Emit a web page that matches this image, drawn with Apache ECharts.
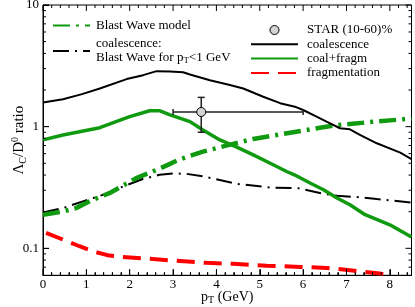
<!DOCTYPE html>
<html><head><meta charset="utf-8">
<script src="https://cdn.jsdelivr.net/npm/echarts@6/dist/echarts.min.js"></script>
<style>html,body{margin:0;padding:0;background:#fff}#c{width:415px;height:307px}</style>
</head><body><div id="c"></div>
<script>
// ---- data ----
const coalX = [0, 0.46, 0.9, 1.31, 1.93, 2.31, 2.62, 2.93, 3.23, 3.39, 3.85, 4.31, 4.62, 5.08, 5.47, 5.81, 6.0, 6.31, 6.54, 6.85, 7.08, 7.31, 7.70, 8.24, 8.5];
const coalY = [1.58, 1.68, 1.85, 2.06, 2.46, 2.65, 2.86, 2.84, 2.80, 2.68, 2.41, 2.20, 2.06, 1.76, 1.56, 1.46, 1.37, 1.21, 1.10, 0.97, 0.95, 0.855, 0.73, 0.612, 0.54];

const cfX = [0, 0.46, 1.31, 2.0, 2.46, 2.7, 2.93, 3.39, 3.69, 4.08, 4.47, 4.85, 5.24, 5.62, 5.81, 6.16, 6.47, 6.78, 7.08, 7.43, 8.0, 8.5];
const cfY = [0.778, 0.855, 0.98, 1.21, 1.35, 1.35, 1.25, 1.10, 0.94, 0.778, 0.678, 0.586, 0.50, 0.428, 0.40, 0.344, 0.303, 0.259, 0.228, 0.189, 0.156, 0.124];

const bwX = [0, 0.46, 0.76, 1.11, 1.53, 1.84, 2.15, 2.53, 2.88, 3.12, 3.69, 4.20, 4.85, 5.77, 6.39, 6.78, 7.54, 8.31, 8.5];
const bwY = [0.189, 0.201, 0.214, 0.247, 0.284, 0.327, 0.377, 0.428, 0.485, 0.533, 0.624, 0.695, 0.793, 0.90, 0.98, 1.03, 1.09, 1.15, 1.17];

const cbwX = [0, 0.46, 0.92, 1.38, 1.84, 2.30, 2.69, 3.0, 3.3, 3.69, 4.0, 4.47, 5.24, 5.89, 6.47, 6.78, 7.24, 7.70, 8.5];
const cbwY = [0.197, 0.214, 0.243, 0.275, 0.322, 0.371, 0.402, 0.412, 0.41, 0.39, 0.37, 0.339, 0.316, 0.312, 0.281, 0.27, 0.264, 0.254, 0.238];

const fragX = [0.07, 0.46, 0.84, 1.15, 1.53, 1.84, 2.30, 2.96, 3.77, 4.39, 5.16, 5.93, 6.55, 7.08, 7.77, 7.96];
const fragY = [0.134, 0.118, 0.104, 0.0945, 0.0871, 0.085, 0.0828, 0.0794, 0.076, 0.0745, 0.072, 0.0703, 0.069, 0.066, 0.062, 0.0605];

// STAR point: x, y, xLow, xHigh, yLow, yHigh
const starPt = [3.65, 1.32, 3.0, 6.0, 0.90, 1.74];

// axis ranges and ticks
const xRange = [0, 8.5];
const yRange = [0.06, 10];
const xTickLabels = [0, 1, 2, 3, 4, 5, 6, 7, 8];
const yTickLabels = [0.1, 1, 10];
const yMinorTicks = [0.07, 0.08, 0.09, 0.2, 0.3, 0.4, 0.5, 0.6, 0.7, 0.8, 0.9, 2, 3, 4, 5, 6, 7, 8, 9];
const xMinorTicks = [];
for (let i = 0; i < 43; i++) { if (i % 5 !== 0) xMinorTicks.push(i / 5); }

const zip = (a, b) => a.map((v, i) => [v, b[i]]);

// ---- chart ----
const F = 'Liberation Serif';
const GREEN = '#109a10';
const chart = echarts.init(document.getElementById('c'), null, {renderer: 'canvas'});

const seg = (x1, y1, x2, y2, st) => ({type: 'line', shape: {x1, y1, x2, y2}, style: st});

// tick marks drawn as thin rect symbols placed on the axes' scales
function tickSeries(name, data, size, offset) {
  return {type: 'scatter', name, data, symbol: 'rect', symbolSize: size, symbolOffset: offset,
    itemStyle: {color: '#000', opacity: 1}, silent: true, clip: false, z: 6, emphasis: {disabled: true}};
}

const legText = {color: '#000', fontFamily: F, fontSize: 13, lineHeight: 13, rich: {
  n: {fontSize: 13, fontFamily: F, color: '#000', lineHeight: 15},
  sub: {fontSize: 9, fontFamily: F, color: '#000', lineHeight: 8, verticalAlign: 'bottom'}
}};
const noSym = {opacity: 0};

const option = {
  animation: false,
  backgroundColor: '#fff',
  textStyle: {fontFamily: F, color: '#000'},
  grid: {left: 43, top: 5, width: 368.5, height: 270.3, containLabel: false, outerBoundsMode: 'none',
    show: true, borderColor: '#000', borderWidth: 1, backgroundColor: 'transparent'},
  xAxis: {
    type: 'value', min: xRange[0], max: xRange[1], interval: 1, position: 'bottom',
    axisLine: {show: true, onZero: false, lineStyle: {color: '#000', width: 1}},
    axisTick: {show: true, inside: true, length: 6, customValues: xTickLabels},
    minorTick: {show: true, splitNumber: 5, length: 3, lineStyle: {color: '#000'}},
    axisLabel: {show: true, customValues: xTickLabels, color: '#000', fontFamily: F, fontSize: 13, margin: 3},
    splitLine: {show: false}, minorSplitLine: {show: false},
    name: '{n|p}{sub|T}{n| (GeV)}', nameLocation: 'middle', nameGap: 14, nameMoveOverlap: false,
    nameTextStyle: {color: '#000', fontFamily: F, rich: {
      n: {fontSize: 14, fontFamily: F, color: '#000', lineHeight: 16},
      sub: {fontSize: 10, fontFamily: F, color: '#000', lineHeight: 9, verticalAlign: 'bottom'}
    }}
  },
  yAxis: {
    type: 'log', logBase: 10, min: yRange[0], max: yRange[1], position: 'left',
    axisLine: {show: true, onZero: false, lineStyle: {color: '#000', width: 1}},
    axisTick: {show: true, inside: true, length: 6, customValues: yTickLabels},
    axisLabel: {show: true, customValues: yTickLabels, color: '#000', fontFamily: F, fontSize: 13, margin: 4,
      formatter: v => String(+(+v).toPrecision(3))},
    splitLine: {show: false}, minorTick: {show: false},
    name: '{n|Λ}{sub|C}{n|/D}{sup|0}{n| ratio}', nameLocation: 'middle', nameRotate: 90, nameGap: 15, nameMoveOverlap: false,
    nameTextStyle: {color: '#000', fontFamily: F, rich: {
      n: {fontSize: 15, fontFamily: F, color: '#000', lineHeight: 18},
      sub: {fontSize: 10, fontFamily: F, color: '#000', lineHeight: 9, verticalAlign: 'bottom'},
      sup: {fontSize: 10, fontFamily: F, color: '#000', lineHeight: 9, verticalAlign: 'top'}
    }}
  },
  legend: [
    {
      data: [{name: 'Blast Wave model', itemStyle: noSym}, {name: 'coalescence BW', itemStyle: noSym}],
      orient: 'vertical', left: 52, top: 19, padding: 0, itemWidth: 37, itemHeight: 9, itemGap: 5,
      textStyle: Object.assign({}, legText, {padding: [0, 0, 0, 1]}),
      formatter: n => n === 'coalescence BW' ? 'coalescence:\n{n|Blast Wave for p}{sub|T}{n|<1 GeV}' : n,
      selectedMode: false
    },
    {
      data: [
        {name: 'STAR (10-60)%', icon: 'circle', itemStyle: {color: '#d4d4d4', borderColor: '#000', borderWidth: 1, opacity: 1}},
        {name: 'coalescence', itemStyle: noSym}, {name: 'coal+fragm', itemStyle: noSym}, {name: 'fragmentation', itemStyle: noSym}
      ],
      orient: 'vertical', left: 250, top: 23.5, padding: 0, itemWidth: 47, itemHeight: 9, itemGap: 1.3,
      textStyle: Object.assign({}, legText, {padding: [0, 0, 0, 4]}),
      selectedMode: false
    }
  ],
  series: [
    {type: 'line', name: 'fragmentation', data: zip(fragX, fragY), symbol: 'none', showSymbol: false,
      itemStyle: {color: '#ff0000'}, lineStyle: {color: '#ff0000', width: 4, type: [18, 9]}, z: 2},
    {type: 'line', name: 'coalescence BW', data: zip(cbwX, cbwY), symbol: 'none', showSymbol: false,
      itemStyle: {color: '#000'}, lineStyle: {color: '#000', width: 2, type: [16, 6, 2, 6]}, z: 3},
    {type: 'line', name: 'Blast Wave model', data: zip(bwX, bwY), symbol: 'none', showSymbol: false,
      itemStyle: {color: GREEN}, lineStyle: {color: GREEN, width: 4.5, type: [17, 6, 3, 6]}, z: 4},
    {type: 'line', name: 'coal+fragm', data: zip(cfX, cfY), symbol: 'none', showSymbol: false,
      itemStyle: {color: GREEN}, lineStyle: {color: GREEN, width: 3.5}, z: 5},
    {type: 'line', name: 'coalescence', data: zip(coalX, coalY), symbol: 'none', showSymbol: false,
      itemStyle: {color: '#000'}, lineStyle: {color: '#000', width: 2}, z: 5},
    tickSeries('tick-xb', xTickLabels.map(v => [v, yRange[0]]), [1, 6], [0, -3]),
    tickSeries('tick-xt', xTickLabels.map(v => [v, yRange[1]]), [1, 6], [0, 3]),
    tickSeries('tick-xbm', xMinorTicks.map(v => [v, yRange[0]]), [1, 3], [0, -1.5]),
    tickSeries('tick-xtm', xMinorTicks.map(v => [v, yRange[1]]), [1, 3], [0, 1.5]),
    tickSeries('tick-yl', yTickLabels.map(v => [xRange[0], v]), [6, 1], [3, 0]),
    tickSeries('tick-yr', yTickLabels.map(v => [xRange[1], v]), [6, 1], [-3, 0]),
    tickSeries('tick-ylm', yMinorTicks.map(v => [xRange[0], v]), [3, 1], [1.5, 0]),
    tickSeries('tick-yrm', yMinorTicks.map(v => [xRange[1], v]), [3, 1], [-1.5, 0]),
    {type: 'custom', name: 'STAR err', data: [starPt], z: 6,
      renderItem: (params, api) => {
        const x = api.value(0), y = api.value(1);
        const l = api.coord([api.value(2), y]);
        const r = api.coord([api.value(3), y]);
        const b = api.coord([x, api.value(4)]);
        const t = api.coord([x, api.value(5)]);
        const st = {stroke: '#222', lineWidth: 1.5, fill: null};
        return {type: 'group', children: [
          seg(l[0], l[1], r[0], r[1], st),
          seg(l[0], l[1] - 3, l[0], l[1] + 3, st),
          seg(r[0], r[1] - 3, r[0], r[1] + 3, st),
          seg(b[0], b[1], t[0], t[1], st),
          seg(t[0] - 3.5, t[1], t[0] + 3.5, t[1], st),
          seg(b[0] - 3.5, b[1], b[0] + 3.5, b[1], st)
        ]};
      }
    },
    {type: 'scatter', name: 'STAR (10-60)%', data: [[starPt[0], starPt[1]]], symbol: 'circle', symbolSize: 9,
      itemStyle: {color: '#d4d4d4', borderColor: '#000', borderWidth: 1, opacity: 1}, z: 7}
  ]
};
chart.setOption(option);
</script>
</body></html>
